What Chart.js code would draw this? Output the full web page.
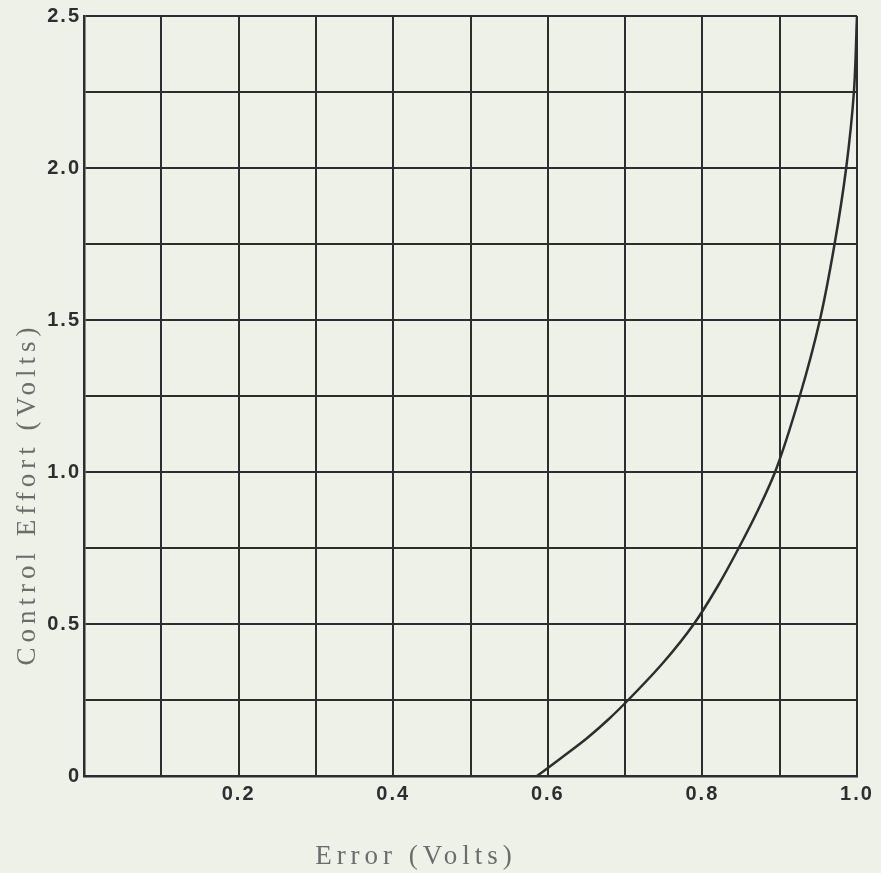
<!DOCTYPE html>
<html>
<head>
<meta charset="utf-8">
<script src="https://cdn.jsdelivr.net/npm/chart.js@4/dist/chart.umd.min.js"></script>
<style>
  html, body { margin: 0; padding: 0; background: #edf1e8; }
  #wrap { width: 881px; height: 873px; position: relative; }
</style>
</head>
<body>
<div id="wrap"><canvas id="effortChart"></canvas></div>
<script>
// data
const errorVolts  = [0.586, 0.619, 0.651, 0.679, 0.704, 0.750, 0.789, 0.820, 0.847, 0.872, 0.894, 0.926, 0.952, 0.971, 0.986, 0.996, 1.0];
const effortVolts = [0, 0.0625, 0.125, 0.1875, 0.25, 0.375, 0.5, 0.625, 0.75, 0.875, 1.0, 1.25, 1.5, 1.75, 2.0, 2.25, 2.5];

const xTickLabels = ['', '', '0.2', '', '0.4', '', '0.6', '', '0.8', '', '1.0'];
const yTickLabels = ['0', '', '0.5', '', '1.0', '', '1.5', '', '2.0', '', '2.5'];

const xTitle = 'Error (Volts)';
const yTitle = 'Control Effort (Volts)';

const ink = '#2c2e2b';

// axis titles are set off-centre in the original, so draw them by hand
const axisTitles = {
    id: 'axisTitles',
    beforeDraw(chart) {
        chart.ctx.letterSpacing = '2px';
    },
    afterDraw(chart) {
        const ctx = chart.ctx;
        ctx.save();
        ctx.letterSpacing = '5px';
        ctx.fillStyle = '#6b6d69';
        ctx.font = '27px "Liberation Serif", "DejaVu Serif", serif';
        ctx.textAlign = 'center';
        ctx.textBaseline = 'middle';
        ctx.fillText(xTitle, 416, 857);
        ctx.translate(28, 494);
        ctx.rotate(-Math.PI / 2);
        ctx.fillText(yTitle, 0, 0);
        ctx.restore();
    }
};

const points = errorVolts.map((x, i) => ({ x: x, y: effortVolts[i] }));

new Chart(document.getElementById('effortChart'), {
    type: 'line',
    data: {
        datasets: [{
            data: points,
            borderColor: ink,
            borderWidth: 2.5,
            pointRadius: 0,
            cubicInterpolationMode: 'monotone',
            fill: false
        }]
    },
    options: {
        indexAxis: 'y',
        responsive: true,
        maintainAspectRatio: false,
        animation: false,
        layout: { padding: { top: 16, right: 24, left: 0, bottom: 0 } },
        plugins: { legend: { display: false }, tooltip: { enabled: false } },
        scales: {
            x: {
                type: 'linear',
                position: 'bottom',
                min: 0, max: 1,
                afterFit(scale) { scale.height = 97; },
                grid: { color: ink, lineWidth: 2, drawTicks: false },
                border: { color: ink, width: 2.5 },
                ticks: {
                    stepSize: 0.1,
                    padding: 6,
                    color: '#2e2e2e',
                    font: { family: '"Liberation Sans", Arial, sans-serif', size: 20, weight: 'bold' },
                    maxRotation: 0,
                    autoSkip: false,
                    callback: (v, i) => xTickLabels[i]
                }
            },
            y: {
                type: 'linear',
                position: 'left',
                min: 0, max: 2.5,
                afterFit(scale) { scale.width = 84; },
                grid: { color: ink, lineWidth: 2, drawTicks: false },
                border: { color: ink, width: 2.5 },
                ticks: {
                    stepSize: 0.25,
                    padding: 3,
                    color: '#2e2e2e',
                    font: { family: '"Liberation Sans", Arial, sans-serif', size: 20, weight: 'bold' },
                    autoSkip: false,
                    callback: (v, i) => yTickLabels[i]
                }
            }
        }
    },
    plugins: [axisTitles]
});
</script>
</body>
</html>
